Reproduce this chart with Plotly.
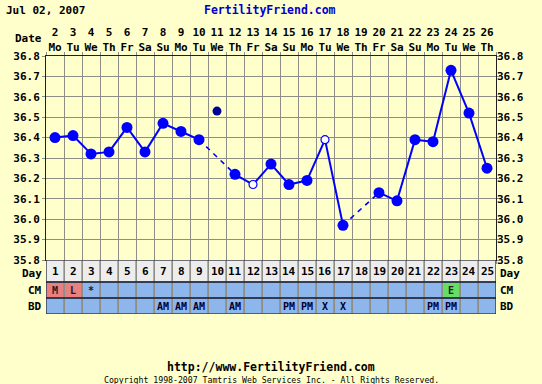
import plotly.graph_objects as go

# ---------------- data ----------------
days = list(range(1, 26))
dates = ["2", "3", "4", "5", "6", "7", "8", "9", "10", "11", "12", "13", "14",
         "15", "16", "17", "18", "19", "20", "21", "22", "23", "24", "25", "26"]
weekdays = ["Mo", "Tu", "We", "Th", "Fr", "Sa", "Su", "Mo", "Tu", "We", "Th", "Fr", "Sa",
            "Su", "Mo", "Tu", "We", "Th", "Fr", "Sa", "Su", "Mo", "Tu", "We", "Th"]
temps = [36.40, 36.41, 36.32, 36.33, 36.45, 36.33, 36.47, 36.43, 36.39, 36.53,
         36.22, 36.17, 36.27, 36.17, 36.19, 36.39, 35.97, None, 36.13, 36.09,
         36.39, 36.38, 36.73, 36.52, 36.25]
discarded_days = [10]
open_days = [12, 16]
cm = ["M", "L", "*", "", "", "", "", "", "", "", "", "", "", "", "", "", "", "", "", "",
      "", "", "E", "", ""]
bd = ["", "", "", "", "", "", "AM", "AM", "AM", "", "AM", "", "", "PM", "PM", "X", "X", "",
      "", "", "", "PM", "PM", "", ""]
y_ticks = [35.8, 35.9, 36.0, 36.1, 36.2, 36.3, 36.4, 36.5, 36.6, 36.7, 36.8]

# ---------------- styles ----------------
BG = "#FFFFCC"
GRID = "#8E8E86"
BLUE = "#0000FF"
FONT = "DejaVu Sans Mono"
TXT = dict(family=FONT, size=11, color="black", weight="bold")

fig = go.Figure()

# line segments
valid = [(d, t) for d, t in zip(days, temps) if t is not None and d not in discarded_days]
sx, sy, dx, dy = [], [], [], []
for (d0, t0), (d1, t1) in zip(valid[:-1], valid[1:]):
    if d1 - d0 == 1:
        sx += [d0, d1, None]; sy += [t0, t1, None]
    else:
        dx += [d0, d1, None]; dy += [t0, t1, None]
fig.add_trace(go.Scatter(x=sx, y=sy, mode="lines", line=dict(color=BLUE, width=2),
                         hoverinfo="skip", showlegend=False))
fig.add_trace(go.Scatter(x=dx, y=dy, mode="lines", line=dict(color=BLUE, width=1.6, dash="5px,5px"),
                         hoverinfo="skip", showlegend=False))

fx = [d for d, t in valid if d not in open_days]
fy = [t for d, t in valid if d not in open_days]
fig.add_trace(go.Scatter(x=fx, y=fy, mode="markers",
                         marker=dict(color=BLUE, size=11, line=dict(width=0)), showlegend=False))
ox = [d for d in open_days]
oy = [temps[d - 1] for d in open_days]
fig.add_trace(go.Scatter(x=ox, y=oy, mode="markers",
                         marker=dict(color="white", size=8, line=dict(color=BLUE, width=1.2)),
                         showlegend=False))
kx = [d for d in discarded_days]
ky = [temps[d - 1] for d in discarded_days]
fig.add_trace(go.Scatter(x=kx, y=ky, mode="markers",
                         marker=dict(color="#000099", size=9, line=dict(width=0)), showlegend=False))

# dummy traces to activate the top date axis and right temperature axis
fig.add_trace(go.Scatter(x=[days[0]], y=[temps[0]], xaxis="x2", yaxis="y", mode="markers",
                         marker=dict(opacity=0), hoverinfo="skip", showlegend=False))
fig.add_trace(go.Scatter(x=[days[0]], y=[temps[0]], xaxis="x", yaxis="y3", mode="markers",
                         marker=dict(opacity=0), hoverinfo="skip", showlegend=False))

# ---------------- table rows (y2 units in pixels) ----------------
ROWS = {"Day": (32, 54), "CM": (16, 32), "BD": (0, 16)}
shapes = []
anns = []
for i, d in enumerate(days):
    x0, x1 = d - 0.5, d + 0.5
    shapes.append(dict(type="rect", xref="x", yref="y2", x0=x0, x1=x1, y0=ROWS["Day"][0], y1=ROWS["Day"][1],
                       fillcolor="#EDEDED", line=dict(color="#9A9A9A", width=1), layer="below"))
    anns.append(dict(x=d, y=sum(ROWS["Day"]) / 2, xref="x", yref="y2", text=str(d), showarrow=False,
                     font=TXT))
    c = cm[i]
    fill = "#E88080" if c in ("M", "L") else ("#66DD66" if c == "E" else "#8DB6EC")
    shapes.append(dict(type="rect", xref="x", yref="y2", x0=x0, x1=x1, y0=ROWS["CM"][0], y1=ROWS["CM"][1],
                       fillcolor=fill, line=dict(color="#6F8FBF", width=1), layer="below"))
    if c:
        anns.append(dict(x=d, y=sum(ROWS["CM"]) / 2, xref="x", yref="y2", text=c, showarrow=False,
                         font=dict(family=FONT, size=10, color="#202020", weight="bold")))
    shapes.append(dict(type="rect", xref="x", yref="y2", x0=x0, x1=x1, y0=ROWS["BD"][0], y1=ROWS["BD"][1],
                       fillcolor="#8DB6EC", line=dict(color="#6F8FBF", width=1), layer="below"))
    if bd[i]:
        anns.append(dict(x=d, y=sum(ROWS["BD"]) / 2, xref="x", yref="y2", text=bd[i], showarrow=False,
                         font=dict(family=FONT, size=10, color="#000033", weight="bold")))

for name, (a, b) in ROWS.items():
    shapes.append(dict(type="rect", xref="x", yref="y2", x0=0.5, x1=25.5, y0=a, y1=b,
                       line=dict(color="#1A1A2A", width=1), fillcolor="rgba(0,0,0,0)"))
    anns.append(dict(x=0, y=(a + b) / 2 - (2 if name == "Day" else 0), xref="paper", yref="y2", text=name,
                     showarrow=False, xanchor="right", xshift=-2, font=TXT))
    anns.append(dict(x=1, y=(a + b) / 2 - (2 if name == "Day" else 0), xref="paper", yref="y2", text=name,
                     showarrow=False, xanchor="left", xshift=2, font=TXT))

anns += [
    dict(x=-0.0933, y=1.178, xref="paper", yref="paper", text="Jul 02, 2007", showarrow=False,
         xanchor="left", yanchor="middle", font=TXT),
    dict(x=0.498, y=1.178, xref="paper", yref="paper", text="FertilityFriend.com", showarrow=False,
         xanchor="center", yanchor="middle", font=dict(family=FONT, size=11.5, color="#0000CC", weight="bold")),
    dict(x=0, y=1.066, xref="paper", yref="paper", text="Date", showarrow=False,
         xanchor="right", xshift=-2, yanchor="middle", font=TXT),
    dict(x=0.4989, y=-0.205, xref="paper", yref="paper", text="http://www.FertilityFriend.com",
         showarrow=False, xanchor="center", yanchor="middle",
         font=dict(family=FONT, size=11.5, color="black", weight="bold")),
    dict(x=0.5, y=-0.2558, xref="paper", yref="paper",
         text="Copyright 1998-2007 Tamtris Web Services Inc. - All Rights Reserved.",
         showarrow=False, xanchor="center", yanchor="middle", font=dict(family=FONT, size=8.2, color="black")),
]

bounds = [d - 0.5 for d in days] + [days[-1] + 0.5]
ydom = [54 / 258, 1]

fig.update_layout(
    width=542, height=384,
    margin=dict(l=46, r=46, t=56, b=70, autoexpand=False),
    paper_bgcolor=BG, plot_bgcolor=BG,
    shapes=shapes, annotations=anns,
    xaxis=dict(range=[0.5, 25.5], domain=[0, 1], anchor="y", tickvals=bounds, showticklabels=False,
               showgrid=True, gridcolor=GRID, gridwidth=1, ticks="outside", ticklen=3, tickcolor=GRID,
               showline=True, linecolor="#202020", linewidth=1, mirror="ticks", zeroline=False,
               automargin=False),
    xaxis2=dict(range=[0.5, 25.5], overlaying="x", side="top", anchor="y", tickvals=days,
                ticktext=[f"{a}<br>{b}" for a, b in zip(dates, weekdays)], ticks="", showgrid=False,
                zeroline=False, tickfont=TXT, ticklabelstandoff=2, automargin=False),
    yaxis=dict(range=[35.8, 36.8], domain=ydom, anchor="x", tickvals=y_ticks,
               ticktext=[f"{v:.1f}" for v in y_ticks], showgrid=True, gridcolor=GRID, gridwidth=1,
               ticks="outside", ticklen=3, tickcolor=GRID, showline=True, linecolor="#202020",
               linewidth=1, mirror="ticks", zeroline=False, tickfont=TXT, automargin=False),
    yaxis3=dict(range=[35.8, 36.8], overlaying="y", side="right", anchor="x", tickvals=y_ticks,
                ticktext=[f"{v:.1f}" for v in y_ticks], showgrid=False, zeroline=False, ticks="",
                tickfont=TXT, automargin=False),
    yaxis2=dict(range=[0, 54], domain=[0, 54 / 258], anchor="x", showgrid=False, zeroline=False,
                showticklabels=False, showline=False, ticks="", automargin=False),
)

fig.write_html("out.html", config={"displayModeBar": False},
               post_script="document.body.style.margin='0';document.body.style.background='#FFFFCC';")
